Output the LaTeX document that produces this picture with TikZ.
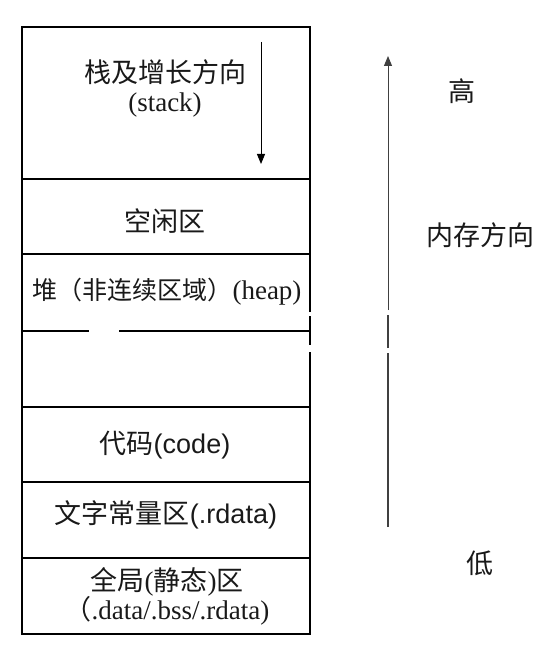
\documentclass[tikz,border=0pt]{standalone}
\usepackage{fontspec}
\setmainfont{Liberation Serif}
\newfontfamily\cjk{Noto Sans CJK SC}
\newfontfamily\arialfont{Liberation Sans}
\usetikzlibrary{arrows.meta}

\tikzset{
	frameline/.style={line width=1.2pt},
	areatext/.style={font=\fontsize{27}{29}\selectfont, text=black!90, align=center, inner sep=0pt},
	growarrow/.style={line width=1pt, -{Triangle[width=8pt,length=10pt]}},
	dirline/.style={line width=1.3pt, black!75}
}

\begin{document}
\begin{tikzpicture}[x=1pt,y=-1pt]
			\useasboundingbox (0,0) rectangle (541,663);
			
			% frame and dividers
			\draw[frameline] (310,312) -- (310,27) -- (22,27) -- (22,634) -- (310,634) -- (310,352);
			\draw[frameline] (310,316) -- (310,345);
			\draw[frameline] (22,179) -- (310,179);
			\draw[frameline] (22,254) -- (310,254);
			\draw[frameline] (22,331) -- (89,331);
			\draw[frameline] (119,331) -- (310,331);
			\draw[frameline] (22,407) -- (310,407);
			\draw[frameline] (22,482) -- (310,482);
			\draw[frameline] (22,558) -- (310,558);
			
			% areas
			\node[areatext] (stack)at(165,88) {{\cjk 栈及增长方向}\\(stack)};
			\node[areatext] (free)at(165,221) {\cjk 空闲区};
			\node[areatext] (heap)at(167,292) {{\cjk\fontsize{25}{29}\selectfont 堆（非连续区域）}(heap)};
			\node[areatext] (code)at(165,445) {{\cjk 代码}{\arialfont (code)}};
			\node[areatext] (rodata)at(166,515) {{\cjk 文字常量区}{\arialfont (.rdata)}};
			\node[areatext] (global)at(167,596) {{\cjk 全局}({\cjk 静态}){\cjk 区}\\{\cjk （}.data/.bss/.rdata)};
			
			% memory direction
			\node[areatext] (high)at(462,91) {\cjk 高};
			\node[areatext] (dir)at(480,235) {\cjk 内存方向};
			\node[areatext] (low)at(480,563) {\cjk 低};
			
			\coordinate (stacktop)at(261,42);
			\coordinate (stackend)at(261,164);
			\draw[growarrow] (stacktop) -- (stackend);
			
			\coordinate (memlow)at(388,527);
			\coordinate (memgapA)at(388,353);
			\coordinate (memgapB)at(388,348);
			\coordinate (memgapC)at(388,315);
			\coordinate (memgapD)at(388,310);
			\coordinate (memhigh)at(388,56);
			\draw[dirline] (memlow) -- (memgapA);
			\draw[dirline] (memgapB) -- (memgapC);
			\draw[dirline, growarrow] (memgapD) -- (memhigh);
		\end{tikzpicture}
\end{document}
